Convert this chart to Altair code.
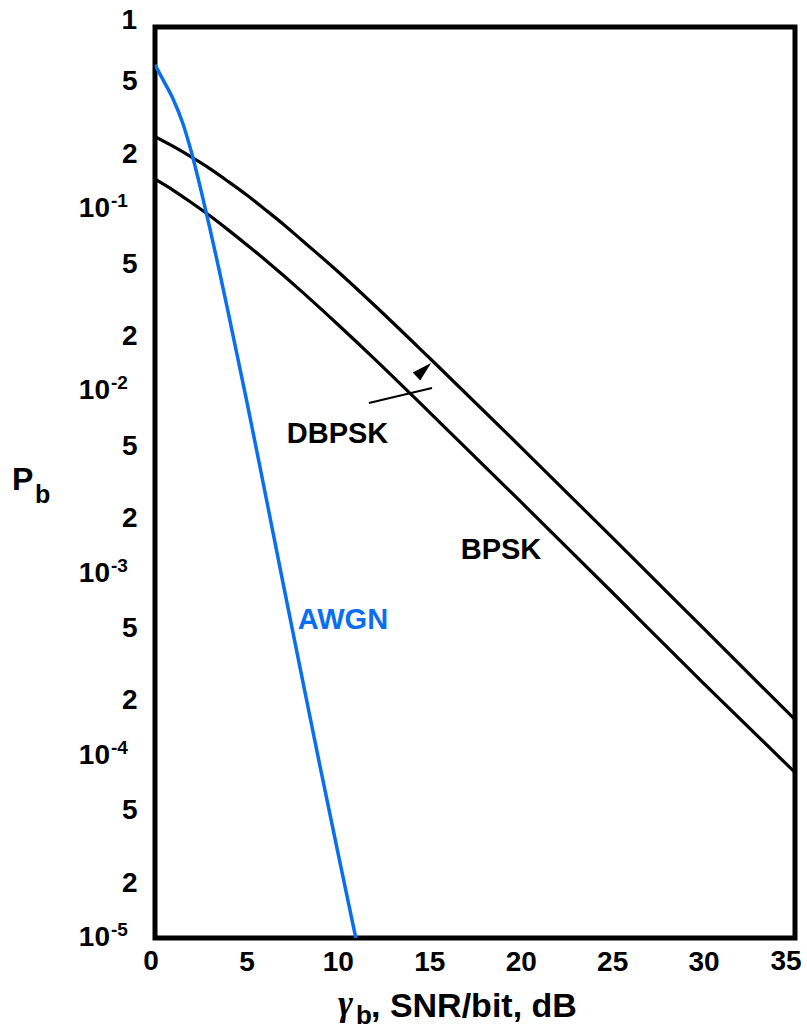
import altair as alt
import pandas as pd

FONT = "Liberation Sans"
BLUE = "#0a6ef0"

# ---- data ----
x_black = [0, 1, 2, 3, 4, 5, 6, 7, 8, 10, 12, 15, 20, 25, 30, 35]
pb_dbpsk = [0.25, 0.221, 0.193, 0.167, 0.142, 0.120, 0.100, 0.083, 0.068,
            0.0455, 0.0297, 0.0153, 0.00495, 0.00158, 0.000500, 0.000158]
pb_bpsk = [0.146, 0.127, 0.1085, 0.092, 0.077, 0.064, 0.053, 0.0435, 0.0355,
           0.0233, 0.0151, 0.0077, 0.00248, 0.00079, 0.00025, 0.000081]

x_awgn = [0, 0.5, 1, 1.5, 2, 2.5, 3, 3.5, 4, 5, 6, 7, 8, 9, 10, 11]
pb_awgn = [0.62, 0.50, 0.40, 0.30, 0.204, 0.129, 0.0785, 0.0468, 0.0272,
           0.00902, 0.00285, 8.9e-4, 2.82e-4, 9.0e-5, 2.95e-5, 9.8e-6]

x_ticks = [0, 5, 10, 15, 20, 25, 30, 35]
x_edge_ticks_left = [0]
x_edge_ticks_right = [35]
y_ticks = [1, 0.5, 0.2, 0.1, 0.05, 0.02, 0.01, 0.005, 0.002, 0.001,
           5e-4, 2e-4, 1e-4, 5e-5, 2e-5, 1e-5]
y_top_tick = [1]
decades = [1e-1, 1e-2, 1e-3, 1e-4, 1e-5]
decade_base = ["10", "10", "10", "10", "10"]
decade_exp = ["-1", "-2", "-3", "-4", "-5"]

curve_label_text = ["DBPSK", "BPSK"]
curve_label_x = [9.98, 18.92]
curve_label_pb = [5.84e-3, 1.35e-3]
awgn_label_text = ["AWGN"]
awgn_label_x = [10.28]
awgn_label_pb = [5.56e-4]

pointer_x = [11.70, 15.15]
pointer_pb = [8.63e-3, 1.044e-2]
arrow_x = [14.70]
arrow_pb = [0.01315]

# ---- scales / axes ----
xscale = alt.Scale(domain=[0, 35], nice=False, zero=False)
yscale = alt.Scale(type="log", domain=[1e-5, 1], nice=False)

x_axis = alt.Axis(
    values=x_ticks, title=None, grid=False, domain=False, ticks=False,
    labelFont=FONT, labelFontSize=28, labelFontWeight="bold", labelColor="black",
    labelPadding=10, labelFlush=False, labelOverlap=False,
    labelExpr="(datum.value == 35 || datum.value == 0) ? '' : datum.label",
)
y_axis = alt.Axis(
    values=y_ticks, title=None, grid=False, domain=False, ticks=False,
    labelFont=FONT, labelFontSize=28, labelFontWeight="bold", labelColor="black",
    labelPadding=18, labelFlush=False, labelOverlap=False,
    labelExpr="datum.value > 0.99 ? '' : (round(datum.value / pow(10, floor(log(datum.value) / LN10 + 1e-6))) == 1 ? '' : '' + round(datum.value / pow(10, floor(log(datum.value) / LN10 + 1e-6))))",
)


def X(f):
    return alt.X(f, type="quantitative", scale=xscale, axis=x_axis)


def Y(f):
    return alt.Y(f, type="quantitative", scale=yscale, axis=y_axis)


dbpsk_df = pd.DataFrame({"x": x_black, "pb": pb_dbpsk})
bpsk_df = pd.DataFrame({"x": x_black, "pb": pb_bpsk})
awgn_df = pd.DataFrame({"x": x_awgn, "pb": pb_awgn})

line_dbpsk = alt.Chart(dbpsk_df).mark_line(
    color="black", strokeWidth=3.2, interpolate="monotone", clip=True
).encode(x=X("x"), y=Y("pb"))
line_bpsk = alt.Chart(bpsk_df).mark_line(
    color="black", strokeWidth=3.2, interpolate="monotone", clip=True
).encode(x=X("x"), y=Y("pb"))
line_awgn = alt.Chart(awgn_df).mark_line(
    color=BLUE, strokeWidth=3.5, interpolate="monotone", clip=True
).encode(x=X("x"), y=Y("pb"))

pointer = alt.Chart(pd.DataFrame({"x": pointer_x, "pb": pointer_pb})).mark_line(
    color="black", strokeWidth=2
).encode(x=X("x"), y=Y("pb"))
arrow = alt.Chart(pd.DataFrame({"x": arrow_x, "pb": arrow_pb})).mark_point(
    shape="M-0.55,1L0,-1L0.55,1Z", size=400, angle=47, filled=True,
    color="black", opacity=1, strokeWidth=0
).encode(x=X("x"), y=Y("pb"))

curve_labels = alt.Chart(pd.DataFrame({"x": curve_label_x, "pb": curve_label_pb,
                                       "t": curve_label_text})).mark_text(
    font=FONT, fontSize=29, fontWeight="bold", color="black",
    align="center", baseline="middle"
).encode(x=X("x"), y=Y("pb"), text="t:N")
awgn_label = alt.Chart(pd.DataFrame({"x": awgn_label_x, "pb": awgn_label_pb,
                                     "t": awgn_label_text})).mark_text(
    font=FONT, fontSize=29, fontWeight="bold", color=BLUE,
    align="center", baseline="middle"
).encode(x=X("x"), y=Y("pb"), text="t:N")

# edge tick labels (nudged like the reference)
xlab_left = alt.Chart(pd.DataFrame({"v": x_edge_ticks_left})).mark_text(
    font=FONT, fontSize=28, fontWeight="bold", color="black",
    align="center", baseline="top", dx=-4
).encode(x=X("v"), y=alt.value(921), text=alt.Text("v:Q", format="d"))
xlab_right = alt.Chart(pd.DataFrame({"v": x_edge_ticks_right})).mark_text(
    font=FONT, fontSize=28, fontWeight="bold", color="black",
    align="center", baseline="top", dx=-9
).encode(x=X("v"), y=alt.value(921), text=alt.Text("v:Q", format="d"))
ylab_top = alt.Chart(pd.DataFrame({"v": y_top_tick})).mark_text(
    font=FONT, fontSize=28, fontWeight="bold", color="black",
    align="right", baseline="middle", dy=-6
).encode(x=alt.value(-18), y=Y("v"), text=alt.Text("v:Q", format="d"))

dec_df = pd.DataFrame({"v": decades, "base": decade_base, "exp": decade_exp})
dec_base = alt.Chart(dec_df).mark_text(
    font=FONT, fontSize=28, fontWeight="bold", color="black",
    align="right", baseline="middle"
).encode(x=alt.value(-45), y=Y("v"), text="base:N")
dec_exp = alt.Chart(dec_df).mark_text(
    font=FONT, fontSize=19, fontWeight="bold", color="black",
    align="left", baseline="middle", dy=-8
).encode(x=alt.value(-44), y=Y("v"), text="exp:N")

# axis titles built from text pieces (subscripts)
ytitle_p = alt.Chart(pd.DataFrame({"t": ["P"]})).mark_text(
    font=FONT, fontSize=32, fontWeight="bold", color="black",
    align="left", baseline="middle"
).encode(x=alt.value(-143), y=alt.value(453), text="t:N")
ytitle_b = alt.Chart(pd.DataFrame({"t": ["b"]})).mark_text(
    font=FONT, fontSize=25, fontWeight="bold", color="black",
    align="left", baseline="alphabetic"
).encode(x=alt.value(-120), y=alt.value(476), text="t:N")

xtitle_g = alt.Chart(pd.DataFrame({"t": ["γ"]})).mark_text(
    font="Liberation Serif", fontSize=36, fontWeight="bold", fontStyle="italic",
    color="black", align="left", baseline="alphabetic"
).encode(x=alt.value(183), y=alt.value(988), text="t:N")
xtitle_b = alt.Chart(pd.DataFrame({"t": ["b"]})).mark_text(
    font=FONT, fontSize=26, fontWeight="bold", color="black",
    align="left", baseline="alphabetic"
).encode(x=alt.value(201), y=alt.value(997), text="t:N")
xtitle_rest = alt.Chart(pd.DataFrame({"t": [", SNR/bit, dB"]})).mark_text(
    font=FONT, fontSize=34, fontWeight="bold", color="black",
    align="left", baseline="alphabetic"
).encode(x=alt.value(216), y=alt.value(990), text="t:N")

chart = alt.layer(
    line_dbpsk, line_bpsk, line_awgn, pointer, arrow,
    curve_labels, awgn_label, xlab_left, xlab_right, ylab_top, dec_base, dec_exp,
    ytitle_p, ytitle_b, xtitle_g, xtitle_b, xtitle_rest,
).properties(
    width=640, height=911,
    background="white",
    autosize=alt.AutoSizeParams(type="none"),
    padding={"left": 155, "top": 27, "right": 12, "bottom": 90},
).configure_view(
    stroke="black", strokeWidth=5
)

chart.save("out.html", embed_options={"renderer": "svg", "actions": False})
